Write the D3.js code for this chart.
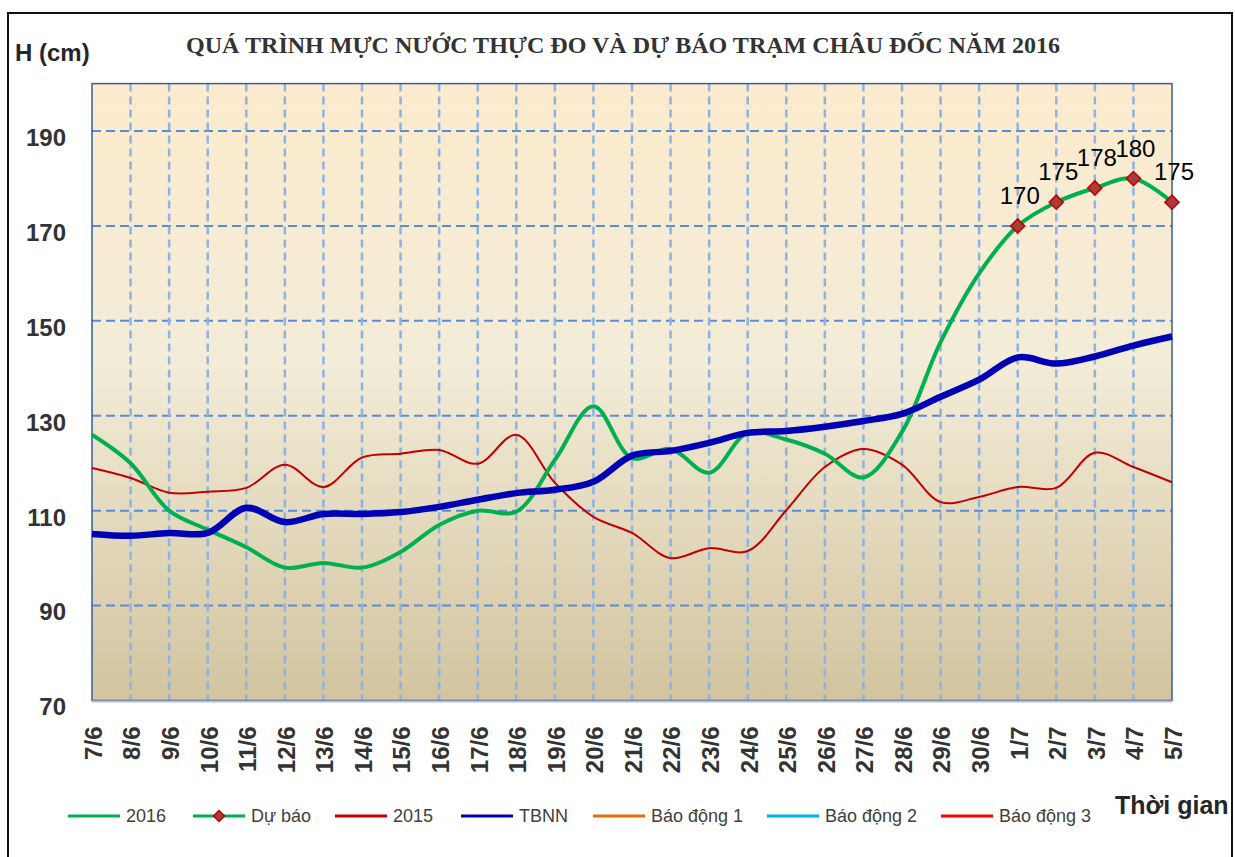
<!DOCTYPE html>
<html>
<head>
<meta charset="utf-8">
<script src="https://cdn.jsdelivr.net/npm/d3@7"></script>
<style>
  body { margin: 0; background: #fff; }
  svg { display: block; }
</style>
</head>
<body>
<script>
// ngay
const dates = ["7/6","8/6","9/6","10/6","11/6","12/6","13/6","14/6","15/6","16/6","17/6","18/6",
  "19/6","20/6","21/6","22/6","23/6","24/6","25/6","26/6","27/6","28/6","29/6","30/6",
  "1/7","2/7","3/7","4/7","5/7"];
// muc nuoc thuc do 2016 (7/6 -> 30/6)
const h2016 = [126,120,110,106,102.3,98,99,98,101.3,107,110,109.8,120.7,132,121.1,123,118,126.4,125,122,117,126.6,145.5,160];
// du bao (1/7 -> 5/7)
const duBao = [170,175,178,180,175];
const h2015 = [119,116.9,113.8,114,114.8,119.7,115,121.2,122,122.8,119.9,126,115.9,108.7,105.3,100,102.1,101.5,110.1,119.2,123,119.7,111.8,112.9,115,114.8,122.2,119.2,116];
const tbnn = [105.1,104.7,105.3,105.3,110.6,107.6,109.3,109.3,109.7,110.8,112.3,113.7,114.4,116.1,121.6,122.6,124.3,126.4,126.8,127.7,128.9,130.4,134,137.6,142.3,141,142.5,144.8,146.7];
const yTicks = [70,90,110,130,150,170,190];

const width = 1235, height = 857;
const plot = {left: 92, right: 1172, top: 83.6, bottom: 700.5};

const svg = d3.select("body").append("svg")
    .attr("width", width)
    .attr("height", height);

// outer border
svg.append("rect")
    .attr("x", 8).attr("y", 13)
    .attr("width", 1224).attr("height", 900)
    .attr("fill", "none").attr("stroke", "#111").attr("stroke-width", 2);

const defs = svg.append("defs");
const grad = defs.append("linearGradient").attr("id", "bg")
    .attr("x1", 0).attr("y1", 0).attr("x2", 0).attr("y2", 1);
grad.append("stop").attr("offset", "0%").attr("stop-color", "#fdebcd");
grad.append("stop").attr("offset", "45%").attr("stop-color", "#f3ecd8");
grad.append("stop").attr("offset", "100%").attr("stop-color", "#d2c49f");

const x = d3.scalePoint()
    .domain(dates)
    .range([plot.left, plot.right]);

const y = d3.scaleLinear()
    .domain([70, 200])
    .range([plot.bottom, plot.top]);

svg.append("rect")
    .attr("x", plot.left).attr("y", plot.top)
    .attr("width", plot.right - plot.left).attr("height", plot.bottom - plot.top)
    .attr("fill", "url(#bg)");

// luoi ngang
svg.append("g").selectAll("line")
    .data(yTicks.slice(1))
    .join("line")
    .attr("x1", plot.left).attr("x2", plot.right)
    .attr("y1", d => y(d)).attr("y2", d => y(d))
    .attr("stroke", "#5b8bd6").attr("stroke-width", 2)
    .attr("stroke-dasharray", "9,5");

// luoi doc
svg.append("g").selectAll("line")
    .data(dates.slice(1, -1))
    .join("line")
    .attr("x1", d => x(d)).attr("x2", d => x(d))
    .attr("y1", plot.top).attr("y2", plot.bottom)
    .attr("stroke", "#8db3e2").attr("stroke-width", 2.5)
    .attr("stroke-dasharray", "8,5");

// khung
svg.append("rect")
    .attr("x", plot.left).attr("y", plot.top)
    .attr("width", plot.right - plot.left).attr("height", plot.bottom - plot.top)
    .attr("fill", "none").attr("stroke", "#3a5f95").attr("stroke-width", 1.5);
svg.append("line")
    .attr("x1", plot.left).attr("x2", plot.right)
    .attr("y1", plot.bottom + 1).attr("y2", plot.bottom + 1)
    .attr("stroke", "#bfbfbf").attr("stroke-width", 2);

// truc y
const yAxis = svg.append("g")
    .attr("transform", `translate(${plot.left},0)`)
    .call(d3.axisLeft(y).tickValues(yTicks).tickSize(0).tickPadding(26));
yAxis.select(".domain").remove();
yAxis.selectAll("text")
    .attr("dy", "0.6em")
    .attr("font-family", "Liberation Sans, Arial, sans-serif")
    .attr("font-weight", "bold").attr("font-size", 24)
    .attr("fill", "#333");

// truc x
const xAxis = svg.append("g")
    .attr("transform", `translate(0,${plot.bottom})`)
    .call(d3.axisBottom(x).tickSize(0));
xAxis.select(".domain").remove();
xAxis.selectAll("text")
    .attr("transform", "rotate(-90)")
    .attr("text-anchor", "end")
    .attr("x", -26).attr("y", 1).attr("dy", "0.35em")
    .attr("font-family", "Liberation Sans, Arial, sans-serif")
    .attr("font-weight", "bold").attr("font-size", 24)
    .attr("fill", "#333");

const line = d3.line()
    .x(d => x(d.date))
    .y(d => y(d.value))
    .curve(d3.curveCatmullRom);

const s2015 = dates.map((d, i) => ({date: d, value: h2015[i]}));
const sTbnn = dates.map((d, i) => ({date: d, value: tbnn[i]}));
const s2016 = h2016.map((v, i) => ({date: dates[i], value: v}));
const sDuBao = duBao.map((v, i) => ({date: dates[h2016.length + i], value: v}));

svg.append("path").datum(s2015)
    .attr("d", line).attr("fill", "none")
    .attr("stroke", "#c00000").attr("stroke-width", 2);

svg.append("path").datum(s2016.concat(sDuBao))
    .attr("d", line).attr("fill", "none")
    .attr("stroke", "#00b050").attr("stroke-width", 4);

svg.append("path").datum(sTbnn)
    .attr("d", line).attr("fill", "none")
    .attr("stroke", "#0000b4").attr("stroke-width", 6.5);

// du bao markers
svg.append("g").selectAll("path")
    .data(sDuBao)
    .join("path")
    .attr("transform", d => `translate(${x(d.date)},${y(d.value)}) rotate(45)`)
    .attr("d", d3.symbol().type(d3.symbolSquare).size(100))
    .attr("fill", "#a83c3c").attr("stroke", "#c00000").attr("stroke-width", 1.5);

svg.append("g").selectAll("text")
    .data(sDuBao)
    .join("text")
    .attr("x", d => x(d.date) + 2)
    .attr("y", d => y(d.value) - 22)
    .attr("text-anchor", "middle")
    .attr("font-family", "Liberation Sans, Arial, sans-serif")
    .attr("font-size", 24)
    .attr("fill", "#000")
    .text(d => d.value);

// tieu de
svg.append("text")
    .attr("x", 186).attr("y", 53)
    .attr("textLength", 874).attr("lengthAdjust", "spacingAndGlyphs")
    .attr("font-family", "Liberation Serif, Times New Roman, serif")
    .attr("font-weight", "bold").attr("font-size", 24)
    .attr("fill", "#333")
    .text("QUÁ TRÌNH MỰC NƯỚC THỰC ĐO VÀ DỰ BÁO TRẠM CHÂU ĐỐC  NĂM 2016");

svg.append("text")
    .attr("x", 15).attr("y", 61)
    .attr("font-family", "Liberation Sans, Arial, sans-serif")
    .attr("font-weight", "bold").attr("font-size", 24)
    .attr("fill", "#262626")
    .text("H (cm)");

svg.append("text")
    .attr("x", 1115).attr("y", 814)
    .attr("font-family", "Liberation Sans, Arial, sans-serif")
    .attr("font-weight", "bold").attr("font-size", 25)
    .attr("fill", "#262626")
    .text("Thời gian");

// chu giai
const legendItems = [
  {name: "2016", color: "#00b050", x: 68},
  {name: "Dự báo", color: "#00b050", x: 193, marker: true},
  {name: "2015", color: "#c00000", x: 335},
  {name: "TBNN", color: "#0000b4", x: 461},
  {name: "Báo động 1", color: "#e46c0a", x: 593},
  {name: "Báo động 2", color: "#00b0f0", x: 767},
  {name: "Báo động 3", color: "#ff0000", x: 941}
];
const lg = svg.append("g").selectAll("g")
    .data(legendItems)
    .join("g")
    .attr("transform", d => `translate(${d.x},816)`);
lg.append("line")
    .attr("x1", 0).attr("x2", 52)
    .attr("stroke", d => d.color).attr("stroke-width", 3);
lg.filter(d => d.marker).append("path")
    .attr("transform", "translate(26,0) rotate(45)")
    .attr("d", d3.symbol().type(d3.symbolSquare).size(60))
    .attr("fill", "#a83c3c").attr("stroke", "#c00000").attr("stroke-width", 1.5);
lg.append("text")
    .attr("x", 58).attr("y", 0).attr("dy", "0.36em")
    .attr("font-family", "Liberation Sans, Arial, sans-serif")
    .attr("font-size", 18)
    .attr("fill", "#404040")
    .text(d => d.name);
</script>
</body>
</html>
